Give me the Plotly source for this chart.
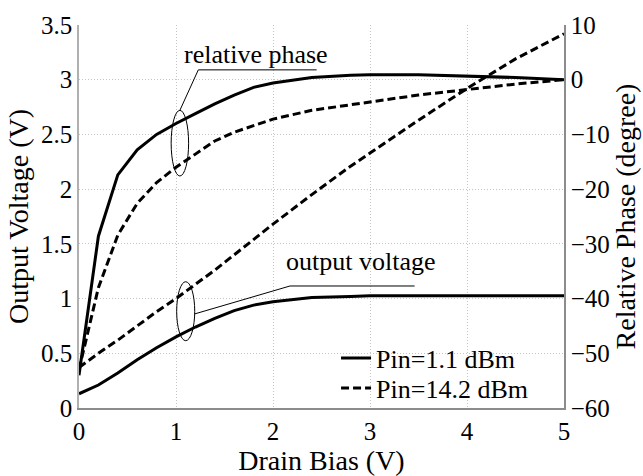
import plotly.graph_objects as go

# Drain bias sweep (V)
bias = [0.0, 0.2, 0.4, 0.6, 0.8, 1.0, 1.2, 1.4, 1.6, 1.8, 2.0, 2.4, 2.8, 3.0, 3.5, 4.0, 4.5, 5.0]

# Output voltage (V)
vout_low = [0.13, 0.21, 0.32, 0.44, 0.55, 0.65, 0.74, 0.82, 0.89, 0.94, 0.97, 1.01, 1.02, 1.025, 1.025, 1.025, 1.025, 1.025]
vout_high = [0.37, 0.50, 0.62, 0.75, 0.88, 1.00, 1.13, 1.26, 1.40, 1.54, 1.68, 1.95, 2.21, 2.33, 2.63, 2.92, 3.19, 3.42]

# Relative phase (degree)
phase_low = [-54.0, -28.6, -17.4, -12.8, -10.0, -8.0, -6.2, -4.4, -2.8, -1.4, -0.6, 0.4, 0.8, 0.9, 0.9, 0.7, 0.4, 0.0]
phase_high = [-53.0, -38.0, -28.4, -22.6, -18.8, -16.0, -13.6, -11.2, -9.6, -8.4, -7.2, -5.6, -4.6, -4.0, -2.8, -1.8, -0.8, 0.0]

series_names = ["Pin=1.1 dBm", "Pin=14.2 dBm"]

FONT = "'Liberation Serif', 'Times New Roman', Times, serif"
solid = dict(color="black", width=3)
dashed = dict(color="black", width=3, dash="8px,4px")

fig = go.Figure()
fig.add_trace(go.Scatter(x=bias, y=vout_low, mode="lines", line=solid,
                         name=series_names[0], legend="legend"))
fig.add_trace(go.Scatter(x=bias, y=vout_high, mode="lines", line=dashed,
                         name=series_names[1], legend="legend2"))
fig.add_trace(go.Scatter(x=bias, y=phase_low, mode="lines", line=solid, yaxis="y2",
                         name=series_names[0], showlegend=False))
fig.add_trace(go.Scatter(x=bias, y=phase_high, mode="lines", line=dashed, yaxis="y2",
                         name=series_names[1], showlegend=False))

grid = dict(showgrid=True, gridcolor="#c4c4c4", gridwidth=1, griddash="1px,2px")
legend_style = dict(x=0.53, xanchor="left", yanchor="middle", bgcolor="rgba(0,0,0,0)",
                    font=dict(size=26), borderwidth=0)

fig.update_layout(
    width=643, height=476,
    margin=dict(l=79, r=71, t=23, b=64),
    paper_bgcolor="white", plot_bgcolor="white",
    font=dict(family=FONT, size=25, color="black"),
    xaxis=dict(range=[0, 5], dtick=1, showline=True, linecolor="#8c8c8c", linewidth=1.5,
               ticks="", zeroline=False,
               title=dict(text="Drain Bias (V)", font=dict(size=28), standoff=0),
               **grid),
    yaxis=dict(range=[0, 3.5], dtick=0.5, showline=True, linecolor="#b0b0b0", linewidth=1.5,
               ticks="", zeroline=False,
               title=dict(text="Output Voltage (V)", font=dict(size=28), standoff=4),
               **grid),
    yaxis2=dict(range=[-60, 10], dtick=10, overlaying="y", side="right", showgrid=False,
                showline=True, linecolor="#8c8c8c", linewidth=1.5, zeroline=False, ticks="",
                title=dict(text="Relative Phase (degree)", font=dict(size=28), standoff=2)),
    legend=dict(y=0.130, **legend_style),
    legend2=dict(y=0.052, **legend_style),
    showlegend=True,
)

# Callout labels
ann_font = dict(family=FONT, size=26, color="black")
fig.add_annotation(x=1.82, y=3.23, xref="x", yref="y", text="relative phase",
                   showarrow=False, font=ann_font)
fig.add_annotation(x=2.90, y=1.34, xref="x", yref="y", text="output voltage",
                   showarrow=False, font=ann_font)

thin = dict(color="black", width=1)
# relative phase callout: underline, leader and ellipse
fig.add_shape(type="line", x0=1.23, y0=3.09, x1=2.45, y1=3.09, line=thin)
fig.add_shape(type="line", x0=1.23, y0=3.09, x1=1.04, y1=2.72, line=thin)
fig.add_shape(type="circle", x0=0.95, y0=2.12, x1=1.13, y1=2.72, line=thin)
# output voltage callout
fig.add_shape(type="line", x0=2.175, y0=1.115, x1=3.46, y1=1.115, line=thin)
fig.add_shape(type="line", x0=1.194, y0=0.86, x1=2.175, y1=1.115, line=thin)
fig.add_shape(type="circle", x0=1.007, y0=0.615, x1=1.193, y1=1.154, line=thin)

fig.write_html("out.html")
